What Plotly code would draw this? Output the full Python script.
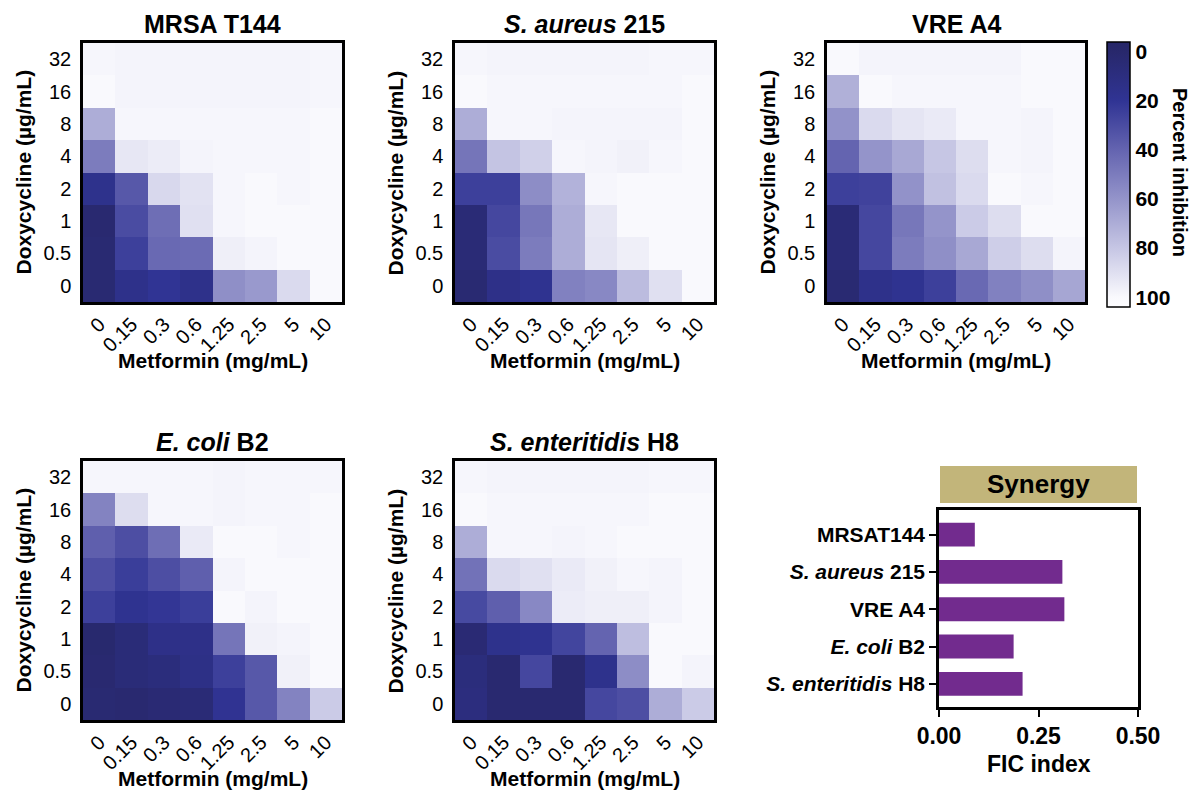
import plotly.graph_objects as go

W, H = 1195, 792
FONT = "Liberation Sans, Arial, Helvetica, sans-serif"

# ---------------- data ----------------
metformin = ["0", "0.15", "0.3", "0.6", "1.25", "2.5", "5", "10"]
doxycycline = ["32", "16", "8", "4", "2", "1", "0.5", "0"]  # rows listed top -> bottom

# percent inhibition, rows = doxycycline (top -> bottom), cols = metformin
mrsa_t144 = [
    [99, 98, 98, 98, 98, 98, 98, 99],
    [100, 98, 98, 98, 98, 98, 98, 99],
    [70, 99, 99, 99, 99, 99, 99, 100],
    [50, 93, 95, 98, 99, 99, 99, 100],
    [16, 35, 87, 91, 99, 100, 99, 100],
    [2, 30, 44, 90, 99, 100, 100, 100],
    [3, 25, 42, 43, 96, 98, 100, 100],
    [3, 15, 20, 15, 58, 62, 88, 100],
]
s_aureus_215 = [
    [99, 98, 98, 98, 98, 98, 99, 99],
    [100, 99, 99, 99, 99, 99, 99, 100],
    [70, 99, 99, 98, 98, 98, 98, 100],
    [47, 79, 84, 99, 98, 97, 99, 100],
    [25, 25, 57, 72, 99, 100, 100, 100],
    [5, 28, 48, 70, 93, 100, 100, 100],
    [5, 30, 50, 70, 92, 96, 100, 100],
    [3, 14, 18, 52, 55, 76, 90, 100],
]
vre_a4 = [
    [100, 98, 98, 98, 98, 98, 100, 100],
    [71, 100, 99, 99, 99, 99, 100, 100],
    [59, 88, 92, 94, 99, 99, 98, 100],
    [40, 60, 68, 80, 89, 99, 98, 100],
    [25, 26, 59, 78, 88, 100, 99, 100],
    [5, 28, 48, 60, 82, 89, 100, 100],
    [5, 28, 50, 58, 68, 83, 89, 98],
    [3, 15, 18, 25, 42, 52, 58, 67],
]
e_coli_b2 = [
    [99, 99, 99, 99, 98, 99, 99, 99],
    [53, 89, 99, 99, 98, 99, 99, 100],
    [38, 31, 44, 94, 100, 100, 99, 100],
    [31, 24, 31, 38, 98, 100, 100, 100],
    [25, 18, 21, 24, 100, 98, 100, 100],
    [1, 6, 14, 14, 47, 97, 98, 100],
    [2, 6, 8, 13, 25, 35, 97, 100],
    [3, 2, 4, 5, 19, 35, 53, 82],
]
s_enteritidis_h8 = [
    [99, 98, 98, 98, 98, 98, 99, 99],
    [100, 99, 99, 99, 99, 99, 100, 100],
    [70, 99, 99, 98, 99, 100, 100, 100],
    [46, 88, 90, 94, 97, 99, 98, 100],
    [29, 38, 55, 95, 96, 96, 98, 100],
    [4, 16, 18, 27, 40, 77, 100, 100],
    [8, 2, 28, 2, 16, 57, 100, 98],
    [9, 2, 2, 2, 28, 31, 70, 82],
]

panel_titles = ["MRSA T144", "<i>S. aureus</i> 215", "VRE A4",
                "<i>E. coli</i> B2", "<i>S. enteritidis</i> H8"]
panel_data = [mrsa_t144, s_aureus_215, vre_a4, e_coli_b2, s_enteritidis_h8]

strains = ["MRSAT144", "<i>S. aureus</i> 215", "VRE A4",
           "<i>E. coli</i> B2", "<i>S. enteritidis</i> H8"]
fic_index = [0.09, 0.31, 0.315, 0.1875, 0.21]

cbar_ticks = [0, 20, 40, 60, 80, 100]

# ---------------- layout geometry (pixels) ----------------
# (x0, x1, y0_top, y1_bottom)
boxes = [
    (83, 342, 43, 302),
    (455, 714, 43, 302),
    (827, 1085, 43, 302),
    (83, 342, 461, 720),
    (455, 714, 461, 720),
]
bar_box = (939, 1138, 510, 707)


def px_x(x):
    return x / W


def px_y(y):
    return 1 - y / H


# colour scale expressed on -inhibition so that 0 sits at the top of the bar
anchor = [(-4, "rgb(38,38,104)"), (0, "rgb(40,40,108)"), (20, "rgb(48,52,148)"),
          (40, "rgb(100,100,176)"), (60, "rgb(148,148,202)"),
          (80, "rgb(198,198,228)"), (100, "rgb(249,249,253)"),
          (104, "rgb(253,253,255)")]
zmin, zmax = -104, 4
colorscale = sorted([((-v - zmin) / (zmax - zmin), c) for v, c in anchor])

fig = go.Figure()
layout = {}
annotations = []
bold = dict(family=FONT, size=21, color="black", weight="bold")

for i, (data, title, box) in enumerate(zip(panel_data, panel_titles, boxes)):
    n = "" if i == 0 else str(i + 1)
    x0, x1, yt, yb = box
    fig.add_trace(go.Heatmap(
        z=[[-v for v in row] for row in data],
        customdata=data,
        x=metformin, y=doxycycline,
        coloraxis="coloraxis",
        xaxis="x" + n, yaxis="y" + n,
        hovertemplate="Metformin %{x}<br>Doxycycline %{y}<br>Inhibition %{customdata}%<extra></extra>",
    ))
    layout["xaxis" + n] = dict(
        domain=[px_x(x0), px_x(x1)], anchor="y" + n, type="category",
        tickangle=-45, ticks="", showline=True, linewidth=2.5, linecolor="black",
        mirror=True, tickfont=dict(family=FONT, size=20, color="black"),
        showgrid=False, zeroline=False, fixedrange=True, automargin=False,
    )
    layout["yaxis" + n] = dict(
        domain=[px_y(yb), px_y(yt)], anchor="x" + n, type="category",
        autorange="reversed", ticks="", showline=True, linewidth=2.5,
        linecolor="black", mirror=True, ticklabelstandoff=5,
        tickfont=dict(family=FONT, size=20, color="black"),
        showgrid=False, zeroline=False, fixedrange=True, automargin=False,
    )
    cx = (x0 + x1) / 2
    cy = (yt + yb) / 2
    annotations.append(dict(text=title, x=px_x(cx), y=px_y(yt - 19), xref="paper",
                            yref="paper", showarrow=False, xanchor="center",
                            yanchor="middle",
                            font=dict(family=FONT, size=25, color="black", weight="bold")))
    annotations.append(dict(text="Metformin (mg/mL)", x=px_x(cx), y=px_y(yb + 58),
                            xref="paper", yref="paper", showarrow=False,
                            xanchor="center", yanchor="middle", font=bold))
    annotations.append(dict(text="Doxycycline (µg/mL)", x=px_x(x0 - 60), y=px_y(cy),
                            xref="paper", yref="paper", showarrow=False, textangle=-90,
                            xanchor="center", yanchor="middle", font=bold))

# ---------------- FIC bar chart ----------------
bx0, bx1, byt, byb = bar_box
fig.add_trace(go.Bar(
    x=fic_index, y=strains, orientation="h", xaxis="x6", yaxis="y6",
    marker=dict(color="#722B8E", line=dict(width=0)), width=0.64,
    hovertemplate="%{y}: %{x}<extra></extra>", showlegend=False,
))
layout["xaxis6"] = dict(
    domain=[px_x(bx0), px_x(bx1)], anchor="y6", range=[0, 0.5],
    tickvals=[0, 0.25, 0.5], tickformat=".2f", ticks="outside", ticklen=7,
    tickwidth=2, tickcolor="black", showline=True, linewidth=2.5, linecolor="black",
    mirror=True, showgrid=False, zeroline=False, automargin=False,
    tickfont=dict(family=FONT, size=23, color="black", weight="bold"),
)
layout["yaxis6"] = dict(
    domain=[px_y(byb), px_y(byt)], anchor="x6", type="category",
    range=[4.62, -0.66], ticks="outside", ticklen=7, tickwidth=2,
    tickcolor="black", showline=True, linewidth=2.5, linecolor="black",
    mirror=True, showgrid=False, zeroline=False, automargin=False,
    tickfont=dict(family=FONT, size=21, color="black", weight="bold"),
)
annotations.append(dict(text="FIC index", x=px_x((bx0 + bx1) / 2), y=px_y(764),
                        xref="paper", yref="paper", showarrow=False,
                        xanchor="center", yanchor="middle",
                        font=dict(family=FONT, size=23, color="black", weight="bold")))
annotations.append(dict(text="Synergy", x=px_x((bx0 + bx1) / 2), y=px_y(484),
                        xref="paper", yref="paper", showarrow=False,
                        xanchor="center", yanchor="middle",
                        font=dict(family=FONT, size=26, color="black", weight="bold")))
annotations.append(dict(text="Percent inhibition", x=px_x(1180), y=px_y(172),
                        xref="paper", yref="paper", showarrow=False, textangle=90,
                        xanchor="center", yanchor="middle",
                        font=dict(family=FONT, size=20, color="black", weight="bold")))

shapes = [dict(type="rect", xref="paper", yref="paper",
               x0=px_x(940), x1=px_x(1137), y0=px_y(503), y1=px_y(466),
               fillcolor="#C2B57A", line=dict(width=0), layer="below")]

layout["coloraxis"] = dict(
    cmin=zmin, cmax=zmax, colorscale=colorscale,
    colorbar=dict(
        x=px_x(1107), xanchor="left", y=px_y(42), yanchor="top",
        len=265, lenmode="pixels", thickness=23, thicknessmode="pixels",
        xpad=0, ypad=0, outlinewidth=1.5, outlinecolor="black",
        tickvals=[-v for v in cbar_ticks], ticktext=[str(v) for v in cbar_ticks],
        ticks="", tickfont=dict(family=FONT, size=21, color="black", weight="bold"),
    ),
)

fig.update_layout(
    template="none",
    width=W, height=H, margin=dict(l=0, r=0, t=0, b=0, autoexpand=False),
    paper_bgcolor="white", plot_bgcolor="white",
    font=dict(family=FONT, color="black"),
    showlegend=False, annotations=annotations, shapes=shapes,
    **layout,
)

fig.write_html(
    "out.html",
    config={"displayModeBar": False},
    post_script="document.body.style.margin='0';document.body.style.padding='0';"
                "document.body.style.overflow='hidden';",
)
